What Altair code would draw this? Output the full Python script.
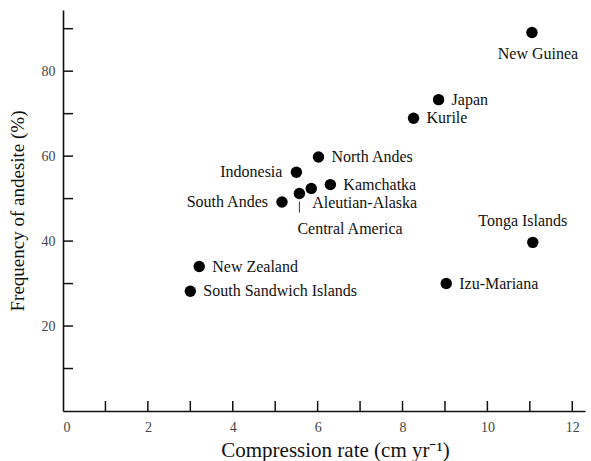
import altair as alt
import pandas as pd

names = ["New Guinea", "Japan", "Kurile", "North Andes", "Indonesia", "Kamchatka",
         "Aleutian-Alaska", "Central America", "South Andes", "Tonga Islands",
         "Izu-Mariana", "New Zealand", "South Sandwich Islands"]
rate = [11.05, 8.85, 8.26, 6.02, 5.50, 6.30, 5.85, 5.57, 5.16, 11.07, 9.03, 3.21, 3.00]
andesite = [89.1, 73.3, 68.9, 59.8, 56.2, 53.3, 52.4, 51.2, 49.2, 39.7, 30.0, 34.0, 28.2]

x_labels = [0, 2, 4, 6, 8, 10, 12]
y_labels = [20, 40, 60, 80]
x_ticks = [1, 2, 3, 4, 5, 6, 7, 8, 9, 10, 11, 12]
y_ticks = [10, 20, 30, 40, 50, 60, 70, 80, 90]

right_labels = ["Japan", "Kurile", "North Andes", "Kamchatka", "New Zealand",
                "South Sandwich Islands", "Izu-Mariana"]
left_labels = ["Indonesia", "South Andes"]

df = pd.DataFrame({"name": names, "rate": rate, "andesite": andesite})
xt = pd.DataFrame({"t": x_ticks})
yt = pd.DataFrame({"t": y_ticks})

W, H = 522, 401
FONT = "Liberation Serif"

xs = alt.Scale(domain=[0, 12.3], nice=False, zero=False)
ys = alt.Scale(domain=[0, 94.4], nice=False, zero=False)

X = alt.X("rate:Q", scale=xs, axis=alt.Axis(
    values=x_labels, title="Compression rate (cm yr\u207b\u00b9)", grid=False, ticks=False,
    labelPadding=9, titlePadding=5, labelFontSize=14, titleFontSize=21, titleX=272,
    labelColor="#444", titleColor="#111", labelFont=FONT, titleFont=FONT,
    titleFontWeight="normal", domainColor="#111", domainWidth=1.6))
Y = alt.Y("andesite:Q", scale=ys, axis=alt.Axis(
    values=y_labels, title="Frequency of andesite (%)", grid=False, ticks=False,
    labelPadding=8, titlePadding=14, labelFontSize=14, titleFontSize=19,
    labelColor="#444", titleColor="#111", labelFont=FONT, titleFont=FONT,
    titleFontWeight="normal", domainColor="#111", domainWidth=1.6))

base = alt.Chart(df)
points = base.mark_circle(size=130, color="black", opacity=1).encode(x=X, y=Y)

def txt(**kw):
    return base.mark_text(font=FONT, fontSize=16, color="#111", baseline="middle", **kw)

right = txt(align="left", dx=13).encode(x="rate:Q", y="andesite:Q", text="name:N") \
    .transform_filter(alt.FieldOneOfPredicate(field="name", oneOf=right_labels))
left = txt(align="right", dx=-14).encode(x="rate:Q", y="andesite:Q", text="name:N") \
    .transform_filter(alt.FieldOneOfPredicate(field="name", oneOf=left_labels))
ng = txt(align="center", dx=6, dy=21).encode(x="rate:Q", y="andesite:Q", text="name:N") \
    .transform_filter(alt.datum.name == "New Guinea")
tonga = txt(align="center", dx=-10, dy=-21).encode(x="rate:Q", y="andesite:Q", text="name:N") \
    .transform_filter(alt.datum.name == "Tonga Islands")
aleut = txt(align="left", dx=1, dy=15).encode(x="rate:Q", y="andesite:Q", text="name:N") \
    .transform_filter(alt.datum.name == "Aleutian-Alaska")
camer = txt(align="left", dx=-2, dy=35).encode(x="rate:Q", y="andesite:Q", text="name:N") \
    .transform_filter(alt.datum.name == "Central America")
leader = base.mark_rule(color="#333", strokeWidth=1, yOffset=8, y2Offset=19).encode(
    x="rate:Q", y="andesite:Q", y2="andesite:Q").transform_filter(alt.datum.name == "Central America")

xtick = alt.Chart(xt).mark_rule(color="#111", strokeWidth=1.5).encode(
    x=alt.X("t:Q", scale=xs), y=alt.value(H), y2=alt.value(H - 10))
ytick = alt.Chart(yt).mark_rule(color="#111", strokeWidth=1.5).encode(
    y=alt.Y("t:Q", scale=ys), x=alt.value(0), x2=alt.value(10))

chart = alt.layer(points, xtick, ytick, leader, right, left, ng, tonga, aleut, camer).properties(
    width=W, height=H,
    autosize=alt.AutoSizeParams(type="none"),
    padding={"left": 63, "top": 10, "right": 6, "bottom": 50},
    background="white",
).configure_view(stroke=None)

chart.save("out.html", embed_options={"renderer": "svg", "actions": False})
